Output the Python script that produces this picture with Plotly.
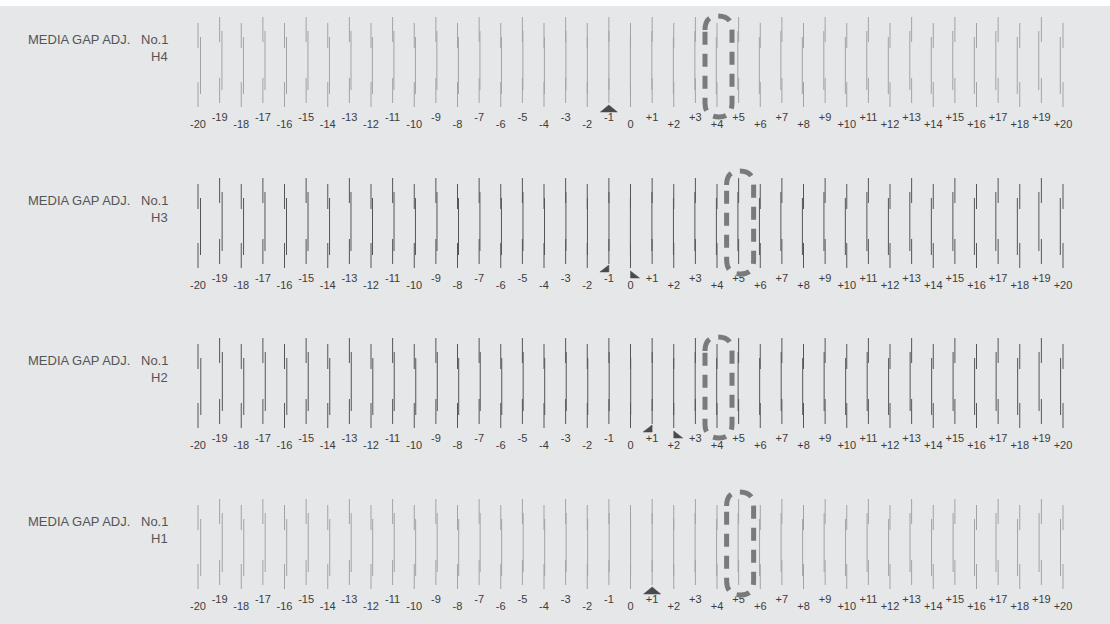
import plotly.graph_objects as go

# column numbers printed under the pattern
columns = list(range(-20, 21))
col_labels = ["0" if c == 0 else f"{c:+d}" for c in columns]

panels = ["H4", "H3", "H2", "H1"]
panel_colors = ["#a3a3a3", "#555555", "#555555", "#a3a3a3"]

# misalignment of the middle segment against the outer ones (pixels), -20 .. +20
shift_h4 = [2.5, 2.3, 2.2, 2.1, 2.0, 1.8, 1.7, 1.6, 1.4, 1.3, 1.2, 1.0, 0.9, 0.8, 0.7, 0.5, 0.4, 0.3, 0.1, 0.0,
            -0.1, -0.3, -0.4, -0.5, -0.7, -0.8, -0.9, -1.0, -1.2, -1.3, -1.4, -1.6, -1.7, -1.8, -2.0, -2.1,
            -2.2, -2.3, -2.5, -2.6, -2.7]
shift_h3 = [2.5, 2.5, 2.3, 2.1, 2.0, 1.9, 1.8, 1.6, 1.5, 1.4, 1.2, 1.1, 1.0, 0.8, 0.7, 0.6, 0.5, 0.3, 0.2, 0.1,
            -0.1, -0.2, -0.3, -0.5, -0.6, -0.7, -0.8, -1.0, -1.1, -1.2, -1.4, -1.5, -1.6, -1.8, -1.9, -2.0,
            -2.1, -2.3, -2.4, -2.5, -2.7]
shift_h2 = [2.8, 2.7, 2.5, 2.4, 2.3, 2.1, 2.0, 1.9, 1.8, 1.6, 1.5, 1.4, 1.2, 1.1, 1.0, 0.8, 0.7, 0.6, 0.5, 0.3,
            0.2, 0.1, -0.1, -0.2, -0.3, -0.5, -0.6, -0.7, -0.8, -1.0, -1.1, -1.2, -1.4, -1.5, -1.6, -1.8,
            -1.9, -2.0, -2.1, -2.3, -2.4]
shift_h1 = [2.7, 2.6, 2.5, 2.3, 2.2, 2.1, 2.0, 1.8, 1.7, 1.6, 1.4, 1.3, 1.2, 1.0, 0.9, 0.8, 0.7, 0.5, 0.4, 0.3,
            0.1, 0.0, -0.1, -0.3, -0.4, -0.5, -0.7, -0.8, -0.9, -1.0, -1.2, -1.3, -1.4, -1.6, -1.7, -1.8,
            -2.0, -2.1, -2.2, -2.3, -2.5]
shifts = [shift_h4, shift_h3, shift_h2, shift_h1]

# arrow marks under the pattern: (column, kind)
marks = [[(-1, "up")], [(-1, "left"), (0, "right")], [(1, "left"), (2, "right")], [(1, "up")]]
# column circled as the chosen value
circled = [4, 5, 4, 5]

# ---- geometry (pixels) ----
W, H = 1110, 624
X_FIRST, X_LAST = 198, 1063
COL = (X_LAST - X_FIRST) / 40
PANEL_Y = [0, 161, 321, 482]
BG = "#e6e7e9"


def px(v):
    return v / COL


def top_bottom(c):
    # odd columns sit a little higher
    return (17, 103) if c % 2 else (23, 107)


fig = go.Figure()

for p, name in enumerate(panels):
    off = PANEL_Y[p]
    ox, oy, mx, my = [], [], [], []
    for c, s in zip(columns, shifts[p]):
        t, b = top_bottom(c)
        t += off
        b += off
        ox += [c, c, None, c, c, None]
        oy += [t, t + 25, None, b - 25, b, None]
        mx += [c + px(s), c + px(s), None]
        my += [t + 14, b - 13, None]
    for xs, ys in ((ox, oy), (mx, my)):
        fig.add_trace(go.Scatter(x=xs, y=ys, mode="lines",
                                 line=dict(color=panel_colors[p], width=1),
                                 hoverinfo="skip"))

    # column numbers
    ly = [off + (118 if c % 2 else 125) for c in columns]
    fig.add_trace(go.Scatter(x=columns, y=ly, mode="text", text=col_labels,
                             textfont=dict(family="Liberation Sans", size=11, color="#3c3c3c"),
                             hoverinfo="skip"))

    # arrow marks
    for c, kind in marks[p]:
        t, b = top_bottom(c)
        b += off
        if kind == "up":
            tx = [c, c + px(8.5), c - px(8.5), c]
            ty = [b + 2, b + 9, b + 9, b + 2]
        elif kind == "left":
            tx = [c, c, c - px(9), c]
            ty = [b + 1, b + 8, b + 8, b + 1]
        else:
            tx = [c, c, c + px(9), c]
            ty = [b + 3, b + 10, b + 10, b + 3]
        fig.add_trace(go.Scatter(x=tx, y=ty, mode="lines", fill="toself",
                                 fillcolor="#4a4a4a", line=dict(color="#4a4a4a", width=0.5),
                                 hoverinfo="skip"))

    # dashed ring around the chosen column
    c = circled[p]
    t, b = top_bottom(c)
    x0, x1 = c - px(12), c + px(15)
    y0, y1 = off + t - 7, off + b + 10
    rx, ry = px(13), 14
    path = (f"M {x0},{y0 + ry} Q {x0},{y0} {x0 + rx},{y0} Q {x1},{y0} {x1},{y0 + ry} "
            f"L {x1},{y1 - ry} Q {x1},{y1} {x1 - rx},{y1} Q {x0},{y1} {x0},{y1 - ry} Z")
    fig.add_shape(type="path", path=path, xref="x", yref="y",
                  line=dict(color="#7a7a7a", width=5, dash="13px,9px"))

    # panel caption
    fig.add_annotation(x=26 / W, y=off + 39, xref="paper", yref="y", text="MEDIA GAP ADJ.",
                       xanchor="left", yanchor="middle", showarrow=False,
                       font=dict(family="Liberation Sans", size=13, color="#555555"))
    fig.add_annotation(x=170 / W, y=off + 39, xref="paper", yref="y", text="No.1",
                       xanchor="right", yanchor="middle", showarrow=False,
                       font=dict(family="Liberation Sans", size=13, color="#555555"))
    fig.add_annotation(x=170 / W, y=off + 56, xref="paper", yref="y", text=name,
                       xanchor="right", yanchor="middle", showarrow=False,
                       font=dict(family="Liberation Sans", size=13, color="#555555"))

# grey card behind everything, thin white strip on top
fig.add_shape(type="rect", xref="paper", yref="paper", x0=0, x1=1, y0=0, y1=1 - 6 / H,
              fillcolor=BG, line=dict(width=0), layer="below")

fig.update_layout(
    width=W, height=H,
    margin=dict(l=0, r=0, t=0, b=0),
    paper_bgcolor="white", plot_bgcolor="rgba(0,0,0,0)",
    showlegend=False, hovermode=False,
    xaxis=dict(range=[-20 - px(X_FIRST), 20 + px(W - X_LAST)], visible=False, fixedrange=True),
    yaxis=dict(range=[H, 0], visible=False, fixedrange=True),
)

fig.write_html("out.html", config={"displayModeBar": False},
               post_script="document.body.style.margin='0';document.body.style.overflow='hidden';")
